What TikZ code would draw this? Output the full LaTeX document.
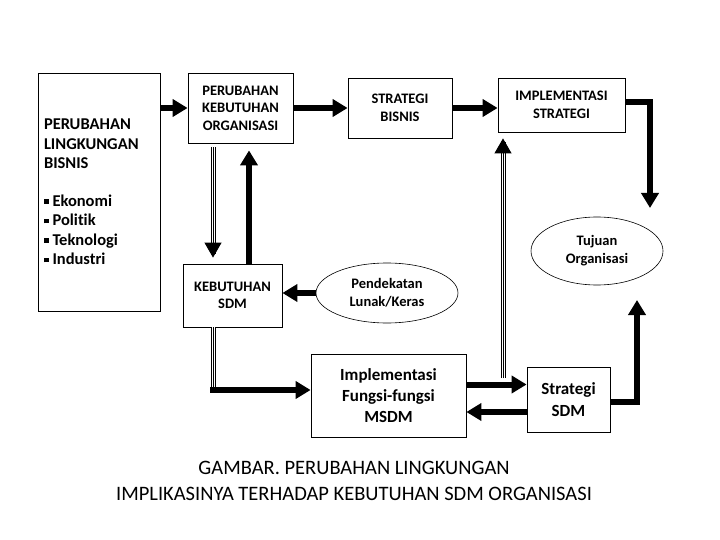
\documentclass[tikz,border=0pt]{standalone}
\usepackage{fontspec}
\setmainfont[Ligatures=NoCommon]{Carlito}
\usetikzlibrary{arrows.meta,shapes.geometric,calc}

\tikzset{
  box/.style={draw, line width=0.8pt, fill=white, align=center, inner sep=2pt,
    font=\bfseries\fontsize{14.5}{17.5}\selectfont},
  oval/.style={draw, ellipse, line width=0.6pt, align=center, inner sep=0pt,
    font=\bfseries\fontsize{14.5}{18}\selectfont},
  fat/.style={line width=6pt, -{Triangle[length=15pt,width=17pt]}},
  trishaft/.style={line width=1pt, preaction={draw, double, double distance=3pt, line width=1pt}},
  tri/.style={line width=1pt, -{Triangle[length=15pt,width=17pt]},
    preaction={draw, double, double distance=3pt, line width=1pt, shorten >=10pt, -}},
}
\newcommand{\bul}{\raisebox{2.5pt}{\rule{4.5pt}{4.5pt}}\hspace{4pt}}

\begin{document}
\begin{tikzpicture}[x=1pt, y=-1pt]
  \useasboundingbox (0,0) rectangle (720,540);

  % Boxes
  \node[box, minimum width=122pt, minimum height=238pt, text width=110pt, align=left,
    inner xsep=6pt, font=\bfseries\fontsize{16.5}{19.5}\selectfont]
    (lingk) at (99,192) {PERUBAHAN\\LINGKUNGAN\\BISNIS\\[18pt]
      \bul Ekonomi\\ \bul Politik\\ \bul Teknologi\\ \bul Industri};
  \node[box, minimum width=105pt, minimum height=70pt] (pk) at (240.5,108)
    {PERUBAHAN\\KEBUTUHAN\\ORGANISASI};
  \node[box, minimum width=104pt, minimum height=60pt] (sb) at (400,108)
    {STRATEGI\\BISNIS};
  \node[box, minimum width=127pt, minimum height=54pt] (is) at (561.5,105)
    {IMPLEMENTASI\\STRATEGI};
  \node[box, minimum width=99pt, minimum height=63pt] (ksdm) at (232.5,295.5)
    {KEBUTUHAN\\SDM};
  \node[box, minimum width=155pt, minimum height=83pt,
    font=\bfseries\fontsize{17}{21}\selectfont] (impl) at (388.5,395.5)
    {Implementasi\\Fungsi-fungsi\\MSDM};
  \node[box, minimum width=83pt, minimum height=65pt,
    font=\bfseries\fontsize{17}{22}\selectfont] (ssdm) at (568.5,399.5)
    {Strategi\\SDM};

  % Ellipses
  \node[oval, minimum width=142pt, minimum height=60pt] (pend) at (387,293)
    {Pendekatan\\Lunak/Keras};
  \node[oval, minimum width=132pt, minimum height=68pt] (tuj) at (597,251)
    {Tujuan\\Organisasi};

  % Title
  \node[font=\fontsize{20.5}{26}\selectfont, align=center] (judul) at (354,481)
    {GAMBAR. PERUBAHAN LINGKUNGAN\\IMPLIKASINYA TERHADAP KEBUTUHAN SDM ORGANISASI};

  % Free ends
  \coordinate (tujtop) at (650,208);
  \coordinate (tujbot) at (637,300);
  \coordinate (hturn) at (213,390);
  \coordinate (kfoot) at (503,378);

  % Top row
  \draw[fat] (lingk.east |- pk) -- (pk.west);
  \draw[fat] (pk.east) -- (sb.west);
  \draw[fat] (sb.east) -- (sb.east -| is.west);
  \draw[fat] ([yshift=3pt]is.east) -| (tujtop);

  % Between PK and KSDM
  \draw[tri, shorten <=4pt, shorten >=6pt] ([xshift=-27.5pt]pk.south) -- ([xshift=-27.5pt]pk.south |- ksdm.north);
  \draw[fat, shorten >=7pt] ([xshift=16.5pt]ksdm.north) -- ([xshift=16.5pt]ksdm.north |- pk.south);
  \draw[fat] (pend.west) -- (pend.west -| ksdm.east);

  % Down to Implementasi
  \draw[trishaft] (ksdm.south -| hturn) -- (hturn);
  \draw[fat] ([xshift=-3pt]hturn) -- (hturn -| impl.west);

  % Implementasi <-> Strategi SDM
  \draw[fat] ([yshift=11pt]impl.east) -- ([yshift=11pt]impl.east -| ssdm.west);
  \draw[fat] ([yshift=-12.5pt]ssdm.west) -- ([yshift=-12.5pt]ssdm.west -| impl.east);
  \draw[tri, shorten >=6pt] (kfoot) -- (kfoot |- is.south);
  \draw[fat] ([yshift=-2.5pt]ssdm.east) -| (tujbot);
\end{tikzpicture}
\end{document}
